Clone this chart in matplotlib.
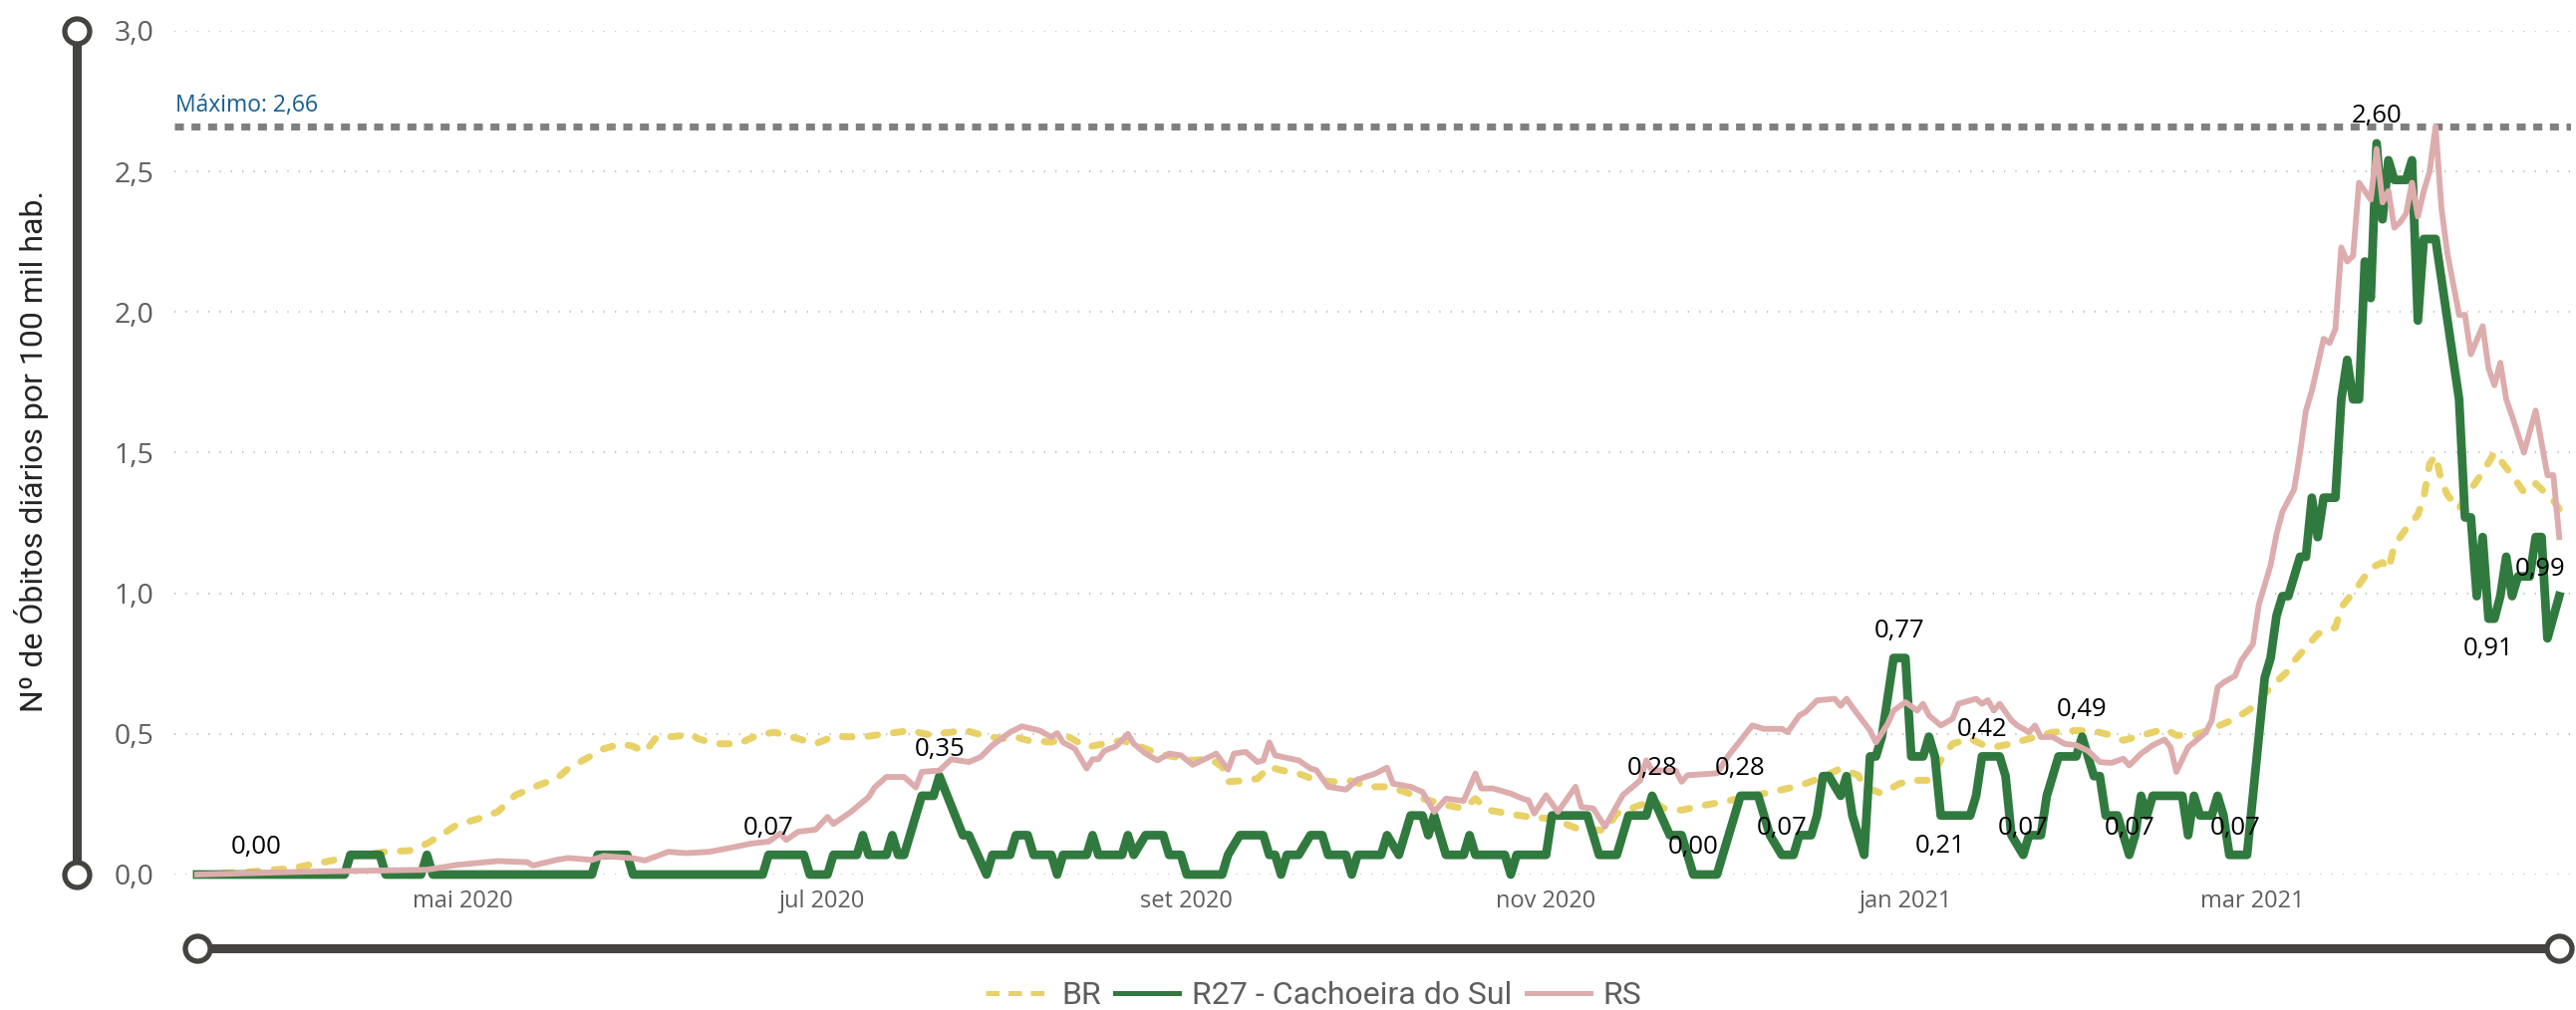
import pandas as pd
import matplotlib
matplotlib.use("Agg")
from matplotlib import pyplot as plt
from matplotlib.lines import Line2D
from matplotlib.transforms import blended_transform_factory

# R27 - Cachoeira do Sul (green)
r27_dates = [
    "2020-03-17", "2020-04-11", "2020-04-12", "2020-04-17", "2020-04-18", "2020-04-24", "2020-04-25", "2020-04-26",
    "2020-05-23", "2020-05-24", "2020-05-29", "2020-05-30", "2020-06-21", "2020-06-22", "2020-06-28", "2020-06-29",
    "2020-07-02", "2020-07-03", "2020-07-07", "2020-07-08", "2020-07-09", "2020-07-12", "2020-07-13", "2020-07-14",
    "2020-07-15", "2020-07-18", "2020-07-20", "2020-07-21", "2020-07-25", "2020-07-26", "2020-07-29", "2020-07-30",
    "2020-08-02", "2020-08-03", "2020-08-05", "2020-08-06", "2020-08-09", "2020-08-10", "2020-08-11", "2020-08-15",
    "2020-08-16", "2020-08-17", "2020-08-21", "2020-08-22", "2020-08-23", "2020-08-25", "2020-08-28", "2020-08-29",
    "2020-08-31", "2020-09-01", "2020-09-07", "2020-09-08", "2020-09-10", "2020-09-14", "2020-09-15", "2020-09-16",
    "2020-09-17", "2020-09-18", "2020-09-20", "2020-09-22", "2020-09-24", "2020-09-25", "2020-09-28", "2020-09-29",
    "2020-09-30", "2020-10-04", "2020-10-05", "2020-10-07", "2020-10-09", "2020-10-11", "2020-10-12", "2020-10-13",
    "2020-10-15", "2020-10-18", "2020-10-19", "2020-10-20", "2020-10-25", "2020-10-26", "2020-10-27", "2020-11-01",
    "2020-11-02", "2020-11-08", "2020-11-10", "2020-11-13", "2020-11-15", "2020-11-18", "2020-11-19", "2020-11-22",
    "2020-11-24", "2020-11-26", "2020-11-30", "2020-12-04", "2020-12-07", "2020-12-09", "2020-12-11", "2020-12-13",
    "2020-12-14", "2020-12-16", "2020-12-17", "2020-12-18", "2020-12-19", "2020-12-21", "2020-12-22", "2020-12-23",
    "2020-12-25", "2020-12-26", "2020-12-27", "2020-12-28", "2020-12-30", "2021-01-01", "2021-01-02", "2021-01-04",
    "2021-01-05", "2021-01-06", "2021-01-07", "2021-01-12", "2021-01-13", "2021-01-14", "2021-01-17", "2021-01-18",
    "2021-01-19", "2021-01-21", "2021-01-22", "2021-01-24", "2021-01-25", "2021-01-26", "2021-01-27", "2021-01-30",
    "2021-01-31", "2021-02-01", "2021-02-02", "2021-02-03", "2021-02-04", "2021-02-06", "2021-02-08", "2021-02-09",
    "2021-02-10", "2021-02-11", "2021-02-12", "2021-02-17", "2021-02-18", "2021-02-19", "2021-02-20", "2021-02-22",
    "2021-02-23", "2021-02-24", "2021-02-25", "2021-02-28", "2021-03-03", "2021-03-04", "2021-03-05", "2021-03-06",
    "2021-03-07", "2021-03-09", "2021-03-10", "2021-03-11", "2021-03-12", "2021-03-13", "2021-03-15", "2021-03-16",
    "2021-03-17", "2021-03-18", "2021-03-19", "2021-03-20", "2021-03-21", "2021-03-22", "2021-03-23", "2021-03-24",
    "2021-03-25", "2021-03-27", "2021-03-28", "2021-03-29", "2021-03-30", "2021-04-01", "2021-04-05", "2021-04-06",
    "2021-04-07", "2021-04-08", "2021-04-09", "2021-04-10", "2021-04-11", "2021-04-12", "2021-04-13", "2021-04-14",
    "2021-04-15", "2021-04-17", "2021-04-18", "2021-04-19", "2021-04-20", "2021-04-22",
]
r27_values = [
    0, 0, 0.07, 0.07, 0, 0, 0.07, 0,
    0, 0.07, 0.07, 0, 0, 0.07, 0.07, 0,
    0, 0.07, 0.07, 0.14, 0.07, 0.07, 0.14, 0.07,
    0.07, 0.28, 0.28, 0.35, 0.14, 0.14, 0, 0.07,
    0.07, 0.14, 0.14, 0.07, 0.07, 0, 0.07, 0.07,
    0.14, 0.07, 0.07, 0.14, 0.07, 0.14, 0.14, 0.07,
    0.07, 0, 0, 0.07, 0.14, 0.14, 0.07, 0.07,
    0, 0.07, 0.07, 0.14, 0.14, 0.07, 0.07, 0,
    0.07, 0.07, 0.14, 0.07, 0.21, 0.21, 0.14, 0.21,
    0.07, 0.07, 0.14, 0.07, 0.07, 0, 0.07, 0.07,
    0.21, 0.21, 0.07, 0.07, 0.21, 0.21, 0.28, 0.14,
    0.14, 0, 0, 0.28, 0.28, 0.14, 0.07, 0.07,
    0.14, 0.14, 0.21, 0.35, 0.35, 0.28, 0.35, 0.21,
    0.07, 0.42, 0.42, 0.49, 0.77, 0.77, 0.42, 0.42,
    0.49, 0.42, 0.21, 0.21, 0.28, 0.42, 0.42, 0.35,
    0.14, 0.07, 0.14, 0.14, 0.28, 0.35, 0.42, 0.42,
    0.49, 0.42, 0.35, 0.35, 0.21, 0.21, 0.07, 0.14,
    0.28, 0.21, 0.28, 0.28, 0.14, 0.28, 0.21, 0.21,
    0.28, 0.21, 0.07, 0.07, 0.70, 0.77, 0.92, 0.99,
    0.99, 1.13, 1.13, 1.34, 1.20, 1.34, 1.34, 1.69,
    1.83, 1.69, 1.69, 2.18, 2.05, 2.60, 2.33, 2.54,
    2.47, 2.47, 2.54, 1.97, 2.26, 2.26, 1.69, 1.27,
    1.27, 0.99, 1.20, 0.91, 0.91, 0.99, 1.13, 0.99,
    1.06, 1.06, 1.20, 1.20, 0.84, 0.99,
]

# RS (pink)
rs_dates = [
    "2020-03-17", "2020-04-04", "2020-04-16", "2020-04-25", "2020-04-30", "2020-05-07", "2020-05-12", "2020-05-13",
    "2020-05-17", "2020-05-19", "2020-05-23", "2020-05-25", "2020-05-30", "2020-06-01", "2020-06-05", "2020-06-08",
    "2020-06-12", "2020-06-16", "2020-06-19", "2020-06-22", "2020-06-24", "2020-06-25", "2020-06-27", "2020-06-30",
    "2020-07-02", "2020-07-03", "2020-07-06", "2020-07-09", "2020-07-10", "2020-07-12", "2020-07-15", "2020-07-17",
    "2020-07-18", "2020-07-21", "2020-07-23", "2020-07-26", "2020-07-28", "2020-07-30", "2020-08-02", "2020-08-04",
    "2020-08-07", "2020-08-09", "2020-08-10", "2020-08-11", "2020-08-13", "2020-08-15", "2020-08-16", "2020-08-17",
    "2020-08-18", "2020-08-20", "2020-08-22", "2020-08-23", "2020-08-25", "2020-08-27", "2020-08-29", "2020-08-31",
    "2020-09-02", "2020-09-04", "2020-09-06", "2020-09-08", "2020-09-09", "2020-09-11", "2020-09-13", "2020-09-14",
    "2020-09-15", "2020-09-16", "2020-09-19", "2020-09-20", "2020-09-22", "2020-09-23", "2020-09-25", "2020-09-28",
    "2020-09-30", "2020-10-03", "2020-10-05", "2020-10-06", "2020-10-09", "2020-10-11", "2020-10-13", "2020-10-15",
    "2020-10-18", "2020-10-20", "2020-10-21", "2020-10-23", "2020-10-26", "2020-10-28", "2020-10-29", "2020-10-30",
    "2020-11-01", "2020-11-03", "2020-11-06", "2020-11-07", "2020-11-09", "2020-11-11", "2020-11-14", "2020-11-17",
    "2020-11-18", "2020-11-19", "2020-11-23", "2020-11-24", "2020-11-25", "2020-11-30", "2020-12-02", "2020-12-04",
    "2020-12-06", "2020-12-08", "2020-12-11", "2020-12-12", "2020-12-14", "2020-12-15", "2020-12-17", "2020-12-20",
    "2020-12-21", "2020-12-22", "2020-12-23", "2020-12-26", "2020-12-27", "2020-12-29", "2020-12-30", "2021-01-01",
    "2021-01-03", "2021-01-04", "2021-01-05", "2021-01-07", "2021-01-09", "2021-01-10", "2021-01-11", "2021-01-13",
    "2021-01-14", "2021-01-15", "2021-01-16", "2021-01-17", "2021-01-19", "2021-01-20", "2021-01-22", "2021-01-23",
    "2021-01-24", "2021-01-26", "2021-01-28", "2021-01-30", "2021-02-01", "2021-02-03", "2021-02-05", "2021-02-07",
    "2021-02-08", "2021-02-10", "2021-02-12", "2021-02-14", "2021-02-15", "2021-02-16", "2021-02-18", "2021-02-19",
    "2021-02-21", "2021-02-22", "2021-02-23", "2021-02-24", "2021-02-26", "2021-02-27", "2021-03-01", "2021-03-02",
    "2021-03-04", "2021-03-05", "2021-03-06", "2021-03-08", "2021-03-09", "2021-03-10", "2021-03-11", "2021-03-13",
    "2021-03-14", "2021-03-15", "2021-03-16", "2021-03-17", "2021-03-18", "2021-03-19", "2021-03-20", "2021-03-21",
    "2021-03-22", "2021-03-23", "2021-03-24", "2021-03-25", "2021-03-26", "2021-03-27", "2021-03-28", "2021-03-29",
    "2021-03-30", "2021-03-31", "2021-04-01", "2021-04-02", "2021-04-03", "2021-04-05", "2021-04-06", "2021-04-07",
    "2021-04-09", "2021-04-10", "2021-04-11", "2021-04-12", "2021-04-13", "2021-04-14", "2021-04-16", "2021-04-18",
    "2021-04-20", "2021-04-21", "2021-04-22",
]
rs_values = [
    0.00, 0.01, 0.014, 0.017, 0.034, 0.048, 0.044, 0.032,
    0.052, 0.059, 0.052, 0.066, 0.058, 0.05, 0.081, 0.076,
    0.081, 0.097, 0.11, 0.117, 0.146, 0.123, 0.152, 0.16,
    0.205, 0.18, 0.223, 0.276, 0.31, 0.347, 0.347, 0.31,
    0.365, 0.37, 0.41, 0.40, 0.418, 0.46, 0.506, 0.527,
    0.512, 0.489, 0.503, 0.47, 0.447, 0.377, 0.41, 0.41,
    0.44, 0.456, 0.50, 0.465, 0.43, 0.406, 0.43, 0.424,
    0.39, 0.41, 0.43, 0.373, 0.43, 0.436, 0.40, 0.406,
    0.47, 0.424, 0.41, 0.406, 0.377, 0.371, 0.312, 0.302,
    0.338, 0.359, 0.38, 0.323, 0.312, 0.294, 0.223, 0.27,
    0.262, 0.359, 0.306, 0.306, 0.288, 0.27, 0.264, 0.217,
    0.282, 0.223, 0.312, 0.24, 0.235, 0.17, 0.282, 0.335,
    0.406, 0.37, 0.37, 0.33, 0.353, 0.36, 0.424, 0.477,
    0.53, 0.518, 0.518, 0.506, 0.566, 0.577, 0.619, 0.625,
    0.60, 0.625, 0.595, 0.512, 0.47, 0.536, 0.583, 0.613,
    0.583, 0.607, 0.566, 0.53, 0.554, 0.607, 0.613, 0.625,
    0.607, 0.62, 0.583, 0.607, 0.548, 0.53, 0.506, 0.53,
    0.489, 0.489, 0.465, 0.46, 0.44, 0.40, 0.397, 0.412,
    0.388, 0.43, 0.46, 0.48, 0.453, 0.365, 0.453, 0.47,
    0.506, 0.548, 0.666, 0.683, 0.707, 0.76, 0.82, 0.96,
    1.10, 1.21, 1.29, 1.37, 1.50, 1.65, 1.72, 1.905,
    1.89, 1.94, 2.23, 2.18, 2.20, 2.46, 2.43, 2.40,
    2.58, 2.39, 2.43, 2.30, 2.32, 2.35, 2.46, 2.34,
    2.43, 2.50, 2.66, 2.37, 2.21, 1.99, 1.99, 1.85,
    1.95, 1.80, 1.74, 1.82, 1.69, 1.63, 1.50, 1.65,
    1.42, 1.42, 1.20,
]

# BR (yellow dashed)
br_dates = [
    "2020-03-17", "2020-03-26", "2020-04-02", "2020-04-08", "2020-04-12", "2020-04-18", "2020-04-22", "2020-04-25",
    "2020-04-27", "2020-04-30", "2020-05-04", "2020-05-07", "2020-05-10", "2020-05-14", "2020-05-17", "2020-05-19",
    "2020-05-22", "2020-05-25", "2020-05-28", "2020-05-30", "2020-06-01", "2020-06-03", "2020-06-06", "2020-06-09",
    "2020-06-10", "2020-06-13", "2020-06-17", "2020-06-20", "2020-06-23", "2020-06-27", "2020-06-30", "2020-07-03",
    "2020-07-08", "2020-07-11", "2020-07-16", "2020-07-19", "2020-07-23", "2020-07-25", "2020-07-27", "2020-07-29",
    "2020-08-01", "2020-08-03", "2020-08-05", "2020-08-09", "2020-08-12", "2020-08-15", "2020-08-18", "2020-08-21",
    "2020-08-24", "2020-08-27", "2020-08-30", "2020-09-02", "2020-09-05", "2020-09-07", "2020-09-08", "2020-09-11",
    "2020-09-13", "2020-09-15", "2020-09-17", "2020-09-20", "2020-09-23", "2020-09-26", "2020-09-29", "2020-10-02",
    "2020-10-05", "2020-10-08", "2020-10-11", "2020-10-15", "2020-10-18", "2020-10-20", "2020-10-22", "2020-10-26",
    "2020-10-29", "2020-11-01", "2020-11-04", "2020-11-07", "2020-11-11", "2020-11-13", "2020-11-17", "2020-11-19",
    "2020-11-21", "2020-11-24", "2020-11-28", "2020-12-01", "2020-12-05", "2020-12-08", "2020-12-12", "2020-12-15",
    "2020-12-18", "2020-12-21", "2020-12-24", "2020-12-25", "2020-12-28", "2020-12-31", "2021-01-02", "2021-01-05",
    "2021-01-07", "2021-01-09", "2021-01-12", "2021-01-14", "2021-01-16", "2021-01-19", "2021-01-23", "2021-01-26",
    "2021-01-30", "2021-02-02", "2021-02-05", "2021-02-07", "2021-02-11", "2021-02-14", "2021-02-16", "2021-02-19",
    "2021-02-22", "2021-02-26", "2021-03-01", "2021-03-04", "2021-03-07", "2021-03-08", "2021-03-12", "2021-03-14",
    "2021-03-15", "2021-03-16", "2021-03-19", "2021-03-21", "2021-03-23", "2021-03-24", "2021-03-25", "2021-03-27",
    "2021-03-29", "2021-03-30", "2021-03-31", "2021-04-01", "2021-04-02", "2021-04-03", "2021-04-05", "2021-04-06",
    "2021-04-09", "2021-04-11", "2021-04-14", "2021-04-16", "2021-04-18", "2021-04-21", "2021-04-22",
]
br_values = [
    0.00, 0.01, 0.022, 0.046, 0.064, 0.081, 0.085, 0.11,
    0.135, 0.176, 0.20, 0.223, 0.282, 0.318, 0.341, 0.377,
    0.412, 0.447, 0.465, 0.456, 0.436, 0.489, 0.491, 0.498,
    0.483, 0.465, 0.465, 0.495, 0.506, 0.483, 0.465, 0.491,
    0.489, 0.498, 0.512, 0.498, 0.506, 0.515, 0.503, 0.491,
    0.483, 0.489, 0.477, 0.471, 0.489, 0.453, 0.465, 0.477,
    0.456, 0.43, 0.418, 0.406, 0.412, 0.383, 0.33, 0.335,
    0.341, 0.383, 0.371, 0.359, 0.335, 0.33, 0.333, 0.312,
    0.312, 0.294, 0.27, 0.247, 0.235, 0.27, 0.23, 0.215,
    0.205, 0.20, 0.182, 0.158, 0.158, 0.217, 0.247, 0.264,
    0.235, 0.229, 0.247, 0.258, 0.276, 0.288, 0.306, 0.323,
    0.347, 0.377, 0.353, 0.312, 0.288, 0.323, 0.335, 0.335,
    0.406, 0.465, 0.483, 0.463, 0.453, 0.465, 0.489, 0.506,
    0.512, 0.51, 0.495, 0.477, 0.50, 0.518, 0.495, 0.495,
    0.518, 0.554, 0.595, 0.666, 0.725, 0.76, 0.855, 0.873,
    0.878, 0.95, 1.03, 1.09, 1.11, 1.085, 1.17, 1.23,
    1.28, 1.34, 1.46, 1.49, 1.40, 1.35, 1.30, 1.34,
    1.43, 1.50, 1.42, 1.36, 1.39, 1.33, 1.30,
]

# data labels shown on the R27 line
label_dates = ["2020-03-27", "2020-06-22", "2020-07-21", "2020-11-19", "2020-11-26", "2020-12-04",
               "2020-12-11", "2020-12-31", "2021-01-07", "2021-01-14", "2021-01-21", "2021-01-31",
               "2021-02-08", "2021-02-26", "2021-03-22", "2021-04-10", "2021-04-22"]
label_values = [0.00, 0.07, 0.35, 0.28, 0.00, 0.28, 0.07, 0.77, 0.21, 0.42, 0.07, 0.49,
                0.07, 0.07, 2.60, 0.91, 0.99]
label_above = [True, True, True, True, True, True, True, True, False, True, True, True,
               True, True, True, False, True]

max_value = 2.66
y_ticks = [0, 0.5, 1.0, 1.5, 2.0, 2.5, 3.0]
y_tick_labels = ["0,0", "0,5", "1,0", "1,5", "2,0", "2,5", "3,0"]
x_ticks = ["2020-05-01", "2020-07-01", "2020-09-01", "2020-11-01", "2021-01-01", "2021-03-01"]
x_tick_labels = ["mai 2020", "jul 2020", "set 2020", "nov 2020", "jan 2021", "mar 2021"]

GREEN = "#317A3F"
PINK = "#DDACAC"
YELLOW = "#E8D166"
DECO = "#454340"
TICK = "#605E5C"

W, H = 2585, 1014
fig = plt.figure(figsize=(W / 100, H / 100), dpi=100)
ax = fig.add_axes([175 / W, (H - 878) / H, (2580 - 175) / W, (878 - 31) / H])

br_x = pd.to_datetime(br_dates)
rs_x = pd.to_datetime(rs_dates)
r27_x = pd.to_datetime(r27_dates)

ax.plot(br_x, br_values, color=YELLOW, lw=5, dashes=(1.4, 2.3), dash_capstyle="round",
        solid_joinstyle="round", zorder=3, clip_on=False)
ax.plot(r27_x, r27_values, color=GREEN, lw=6.3, solid_joinstyle="round", zorder=4, clip_on=False)
ax.plot(rs_x, rs_values, color=PINK, lw=4.2, solid_joinstyle="round", zorder=5, clip_on=False)

# max reference line
ax.axhline(max_value, color="#7F7F7F", lw=5, dashes=(1.3, 1.1), dash_capstyle="butt", zorder=2)
ax.annotate("Máximo: " + f"{max_value:.2f}".replace(".", ","), xy=(0, max_value),
            xycoords=("axes fraction", "data"), xytext=(1, 11), textcoords="offset points",
            ha="left", va="baseline", fontsize=16.5, color="#175E8C", family="Open Sans")

# data labels
for d, v, up in zip(label_dates, label_values, label_above):
    dx = -14 if d == r27_dates[-1] else 0
    ax.annotate(f"{v:.2f}".replace(".", ","), xy=(pd.Timestamp(d), v),
                xytext=(dx, 19.5 if up else -22), textcoords="offset points",
                ha="center", va="center", fontsize=18.5, color="black", family="Open Sans", zorder=6)

ax.set_ylim(0, 3.0)
ax.set_xlim(pd.Timestamp("2020-03-13 03:00"), pd.Timestamp("2021-04-24"))
ax.set_yticks(y_ticks)
ax.set_yticklabels(y_tick_labels)
ax.set_xticks(pd.to_datetime(x_ticks))
ax.set_xticklabels(x_tick_labels)
ax.tick_params(axis="both", length=0, labelcolor=TICK)
ax.tick_params(axis="y", pad=15, labelsize=20.5)
ax.tick_params(axis="x", pad=11, labelsize=17)
for lab in ax.get_xticklabels() + ax.get_yticklabels():
    lab.set_family("Open Sans")
for s in ax.spines.values():
    s.set_visible(False)
ax.yaxis.grid(True, color="#C8C6C4", lw=1.6, dashes=(0.6, 4.5))
ax.set_axisbelow(True)

# decorative axis lines with end circles
vtrans = blended_transform_factory(fig.transFigure, ax.transData)
ax.plot([77 / W, 77 / W], [0, 3.0], transform=vtrans, color=DECO, lw=6.5, marker="o", ms=18,
        mfc="white", mec=DECO, mew=3.8, clip_on=False, zorder=1)
htrans = blended_transform_factory(ax.transData, fig.transFigure)
ax.plot([r27_x[0], r27_x[-1]], [(H - 952) / H] * 2, transform=htrans, color=DECO, lw=6.5,
        marker="o", ms=18, mfc="white", mec=DECO, mew=3.8, clip_on=False, zorder=1)

fig.text(32 / W, (H - 453) / H, "Nº de Óbitos diários por 100 mil hab.", rotation=90,
         ha="center", va="center", fontsize=23, color="#252423", family="Roboto")

handles = [
    Line2D([], [], color=YELLOW, lw=3.6, dashes=(2.7, 1.8)),
    Line2D([], [], color=GREEN, lw=3.6),
    Line2D([], [], color=PINK, lw=3.6),
]
fig.legend(handles, ["BR", "R27 - Cachoeira do Sul", "RS"], loc="center", bbox_to_anchor=(1318 / W, (H - 1000) / H),
           ncol=3, frameon=False, handlelength=2.0, handletextpad=0.4, columnspacing=0.45,
           prop={"family": "Roboto", "size": 23}, labelcolor=TICK, borderpad=0, borderaxespad=0)

fig.savefig("out.png", dpi=100)
